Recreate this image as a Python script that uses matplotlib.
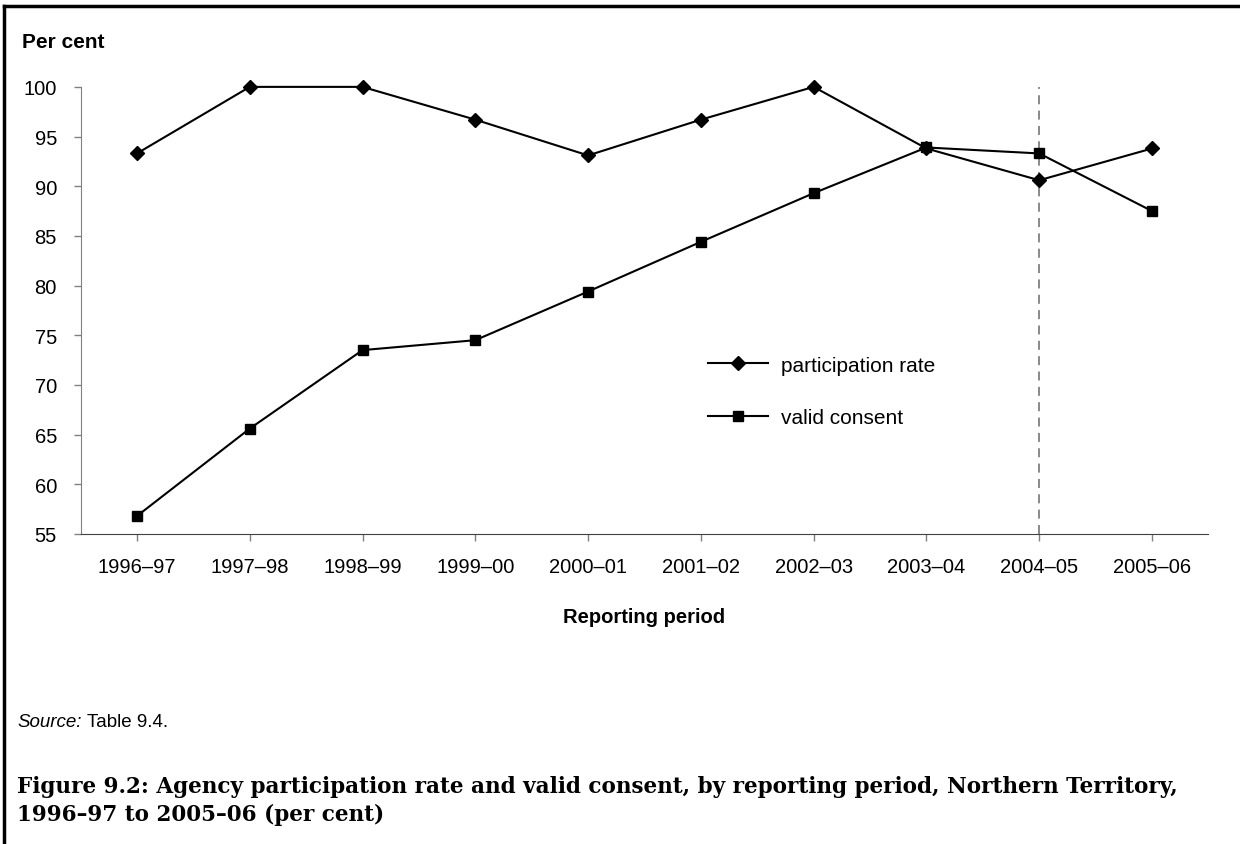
import matplotlib
matplotlib.use("Agg")
import matplotlib.pyplot as plt
from matplotlib.lines import Line2D

plt.rcParams['font.family'] = ['Liberation Sans', 'DejaVu Sans']

# data
periods = ['1996–97', '1997–98', '1998–99', '1999–00', '2000–01',
           '2001–02', '2002–03', '2003–04', '2004–05', '2005–06']
participation = [93.3, 100.0, 100.0, 96.7, 93.1, 96.7, 100.0, 93.8, 90.6, 93.8]
valid_consent = [56.8, 65.6, 73.5, 74.5, 79.4, 84.4, 89.3, 93.9, 93.3, 87.5]
break_period = '2004–05'

fig = plt.figure(figsize=(12.4, 8.45), dpi=100)
ax = fig.add_axes([0.065, 0.367, 0.9095, 0.529])

x = list(range(len(periods)))
ax.plot(x, participation, color='black', lw=1.5, marker='D', markersize=6.8,
        label='participation rate', clip_on=False, zorder=3)
ax.plot(x, valid_consent, color='black', lw=1.5, marker='s', markersize=7.5,
        label='valid consent', clip_on=False, zorder=3)

# dashed line marking the 2004-05 period
ax.axvline(periods.index(break_period), color='#808080', lw=1.3,
           linestyle=(0, (5, 3.5)), zorder=1)

ax.set_xlim(-0.5, len(periods) - 0.5)
ax.set_ylim(55, 100)
ax.set_yticks(range(55, 101, 5))
ax.set_xticks(x)
ax.set_xticklabels(periods)
ax.tick_params(axis='both', labelsize=14.5, colors='#808080', labelcolor='black',
               length=5, width=1)
ax.tick_params(axis='x', pad=12)
ax.tick_params(axis='y', pad=12)

for side in ['top', 'right']:
    ax.spines[side].set_visible(False)
ax.spines['left'].set_color('#808080')
ax.spines['bottom'].set_color('#404040')

ax.set_xlabel('Reporting period', fontsize=14.5, fontweight='bold', labelpad=22)

leg = ax.legend(loc='center left', bbox_to_anchor=(0.556, 0.319), frameon=False,
                fontsize=15, handlelength=2.9, handletextpad=0.6,
                labelspacing=1.6, borderpad=0, borderaxespad=0)

fig.text(0.018, 0.95, 'Per cent', fontsize=15, fontweight='bold', va='center')

# source line: italic word then plain text
src = fig.text(0.014, 0.145, 'Source:', fontsize=13.5, fontstyle='italic', va='center')
fig.canvas.draw()
renderer = fig.canvas.get_renderer()
bb = src.get_window_extent(renderer)
fig.text(bb.x1 / fig.bbox.width + 0.004, 0.145, 'Table 9.4.', fontsize=13.5, va='center')

# caption, two lines, sized to the width of the original
cap1 = 'Figure 9.2: Agency participation rate and valid consent, by reporting period, Northern Territory,'
cap2 = '1996–97 to 2005–06 (per cent)'
t1 = fig.text(0.014, 0.0686, cap1, fontsize=14, fontweight='bold', family='DejaVu Serif',
              va='center')
w = t1.get_window_extent(renderer).width
size = 14 * 1163 / w
t1.set_fontsize(size)
fig.text(0.014, 0.0355, cap2, fontsize=size, fontweight='bold', family='DejaVu Serif',
         va='center')

# page frame: top and left edges
fig.add_artist(Line2D([0.003, 1.0], [0.992, 0.992], color='black', lw=2.5,
                      transform=fig.transFigure))
fig.add_artist(Line2D([0.0035, 0.0035], [0.0, 0.992], color='black', lw=2.5,
                      transform=fig.transFigure))

fig.savefig('out.png', dpi=100)
